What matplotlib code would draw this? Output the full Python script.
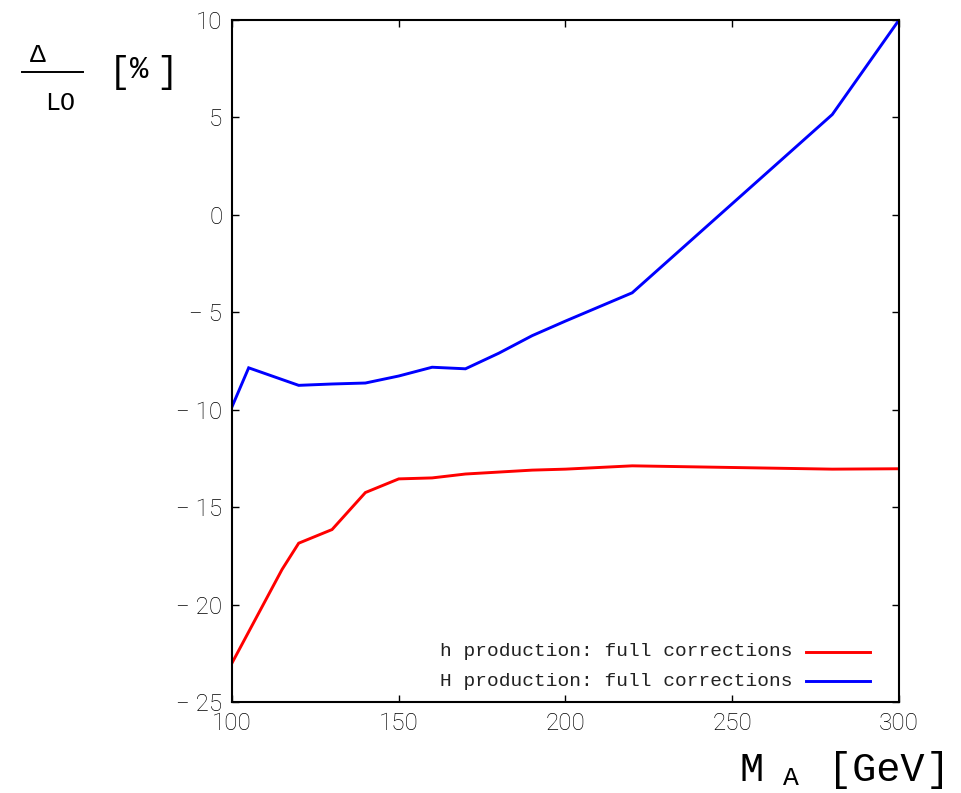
import matplotlib
matplotlib.use("Agg")
import matplotlib.pyplot as plt
from matplotlib.ticker import FuncFormatter, MultipleLocator
from matplotlib.lines import Line2D

# Relative corrections Delta/LO in percent versus M_A
ma_h = [100, 115, 120, 130, 140, 150, 160, 170, 180, 190, 200, 220, 280, 300]
delta_h = [-23.0, -18.2, -16.85, -16.15, -14.25, -13.55, -13.5, -13.3,
           -13.2, -13.1, -13.05, -12.88, -13.05, -13.03]

ma_H = [100, 105, 120, 130, 140, 150, 160, 170, 180, 190, 200, 220, 280, 300]
delta_H = [-9.85, -7.85, -8.75, -8.68, -8.63, -8.27, -7.82, -7.9,
           -7.1, -6.2, -5.45, -4.0, 5.15, 10.0]

labels = ["h production: full corrections", "H production: full corrections"]
colors = ["#ff0000", "#0000ff"]

tick_family = ["Roboto", "DejaVu Sans"]
text_font = ["Liberation Mono", "DejaVu Sans Mono"]

fig = plt.figure(figsize=(9.62, 7.93), dpi=100)
ax = fig.add_axes([232 / 962, 1 - 702 / 793, 667 / 962, 682 / 793])

ax.plot(ma_h, delta_h, color=colors[0], lw=2.1, solid_joinstyle="miter")
ax.plot(ma_H, delta_H, color=colors[1], lw=2.1, solid_joinstyle="miter")

ax.set_xlim(100, 300)
ax.set_ylim(-25, 10)
ax.xaxis.set_major_locator(MultipleLocator(50))
ax.yaxis.set_major_locator(MultipleLocator(5))


def ylab(v, pos):
    v = int(round(v))
    if v < 0:
        return "\u2212 " + str(-v)
    return str(v)


ax.yaxis.set_major_formatter(FuncFormatter(ylab))
ax.tick_params(direction="in", length=5, width=1, top=True, right=True,
               pad=7)
for lab in ax.get_xticklabels() + ax.get_yticklabels():
    lab.set_fontfamily(tick_family)
    lab.set_fontweight("light")
    lab.set_fontsize(17.5)
    lab.set_color("#000000")
for s in ax.spines.values():
    s.set_linewidth(1.5)

# Legend: right-aligned text followed by a line sample
for i, (lab, c) in enumerate(zip(labels, colors)):
    yy = 1 - (652 + 29 * i) / 793
    fig.text(793 / 962, yy, lab, ha="right", va="center", fontsize=14,
             family=text_font, color="#222222")
    fig.add_artist(Line2D([806 / 962, 870 / 962], [yy, yy], color=c, lw=2.1,
                          transform=fig.transFigure))

# y-axis label as a fraction: Delta over LO, in percent
fig.text(38 / 962, 1 - 55 / 793, "\u0394", ha="center", va="center",
         fontsize=19, family=text_font)
fig.add_artist(Line2D([22 / 962, 83 / 962], [1 - 72 / 793, 1 - 72 / 793],
                      color="black", lw=1.4, transform=fig.transFigure))
fig.text(60 / 962, 1 - 103 / 793, "LO", ha="center", va="center",
         fontsize=18, family=text_font)
fig.text(109 / 962, 1 - 72 / 793, "[", ha="left", va="center",
         fontsize=26, family=text_font)
fig.text(139 / 962, 1 - 70 / 793, "%", ha="center", va="center",
         fontsize=22, family=text_font)
fig.text(156 / 962, 1 - 72 / 793, "]", ha="left", va="center",
         fontsize=26, family=text_font)

# x-axis label: M_A [GeV]
fig.text(752 / 962, 1 - 770 / 793, "M", ha="center", va="center",
         fontsize=29, family=text_font)
fig.text(791 / 962, 1 - 778 / 793, "A", ha="center", va="center",
         fontsize=19, family=text_font)
fig.text(828 / 962, 1 - 770 / 793, "[GeV", ha="left", va="center",
         fontsize=29, family=text_font)
fig.text(926 / 962, 1 - 770 / 793, "]", ha="left", va="center",
         fontsize=29, family=text_font)

fig.savefig("out.png", dpi=100)
